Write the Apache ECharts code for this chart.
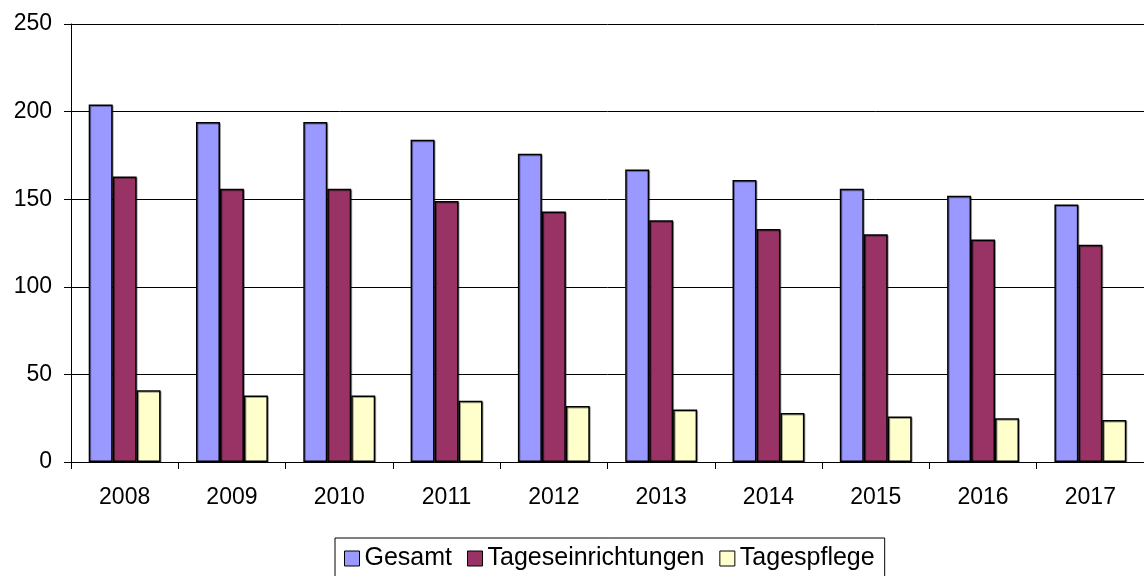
<!DOCTYPE html>
<html>
<head>
<meta charset="utf-8">
<script src="https://cdn.jsdelivr.net/npm/echarts@6/dist/echarts.min.js"></script>
<style>
  html, body { margin: 0; padding: 0; background: #fff; }
  #chart { width: 1144px; height: 576px; }
</style>
</head>
<body>
<div id="chart"></div>
<script>
// Jahre
const years = ['2008', '2009', '2010', '2011', '2012', '2013', '2014', '2015', '2016', '2017'];
// Werte je Reihe
const gesamt = [204, 194, 194, 184, 176, 167, 161, 156, 152, 147];
const tageseinrichtungen = [163, 156, 156, 149, 143, 138, 133, 130, 127, 124];
const tagespflege = [41, 38, 38, 35, 32, 30, 28, 26, 25, 24];
const seriesNames = ['Gesamt', 'Tageseinrichtungen', 'Tagespflege'];
const colors = ['#9999FF', '#993366', '#FFFFCC'];

const chart = echarts.init(document.getElementById('chart'));

function barSeries(name, data, color) {
  return {
    name: name,
    type: 'bar',
    data: data,
    barGap: '0%',
    barCategoryGap: '33%',
    animation: false,
    itemStyle: {
      color: color,
      borderColor: '#000',
      borderWidth: 1.5,
      shadowColor: 'rgba(0,0,0,0.35)',
      shadowOffsetX: 1,
      shadowOffsetY: 1
    }
  };
}

const option = {
  animation: false,
  textStyle: { fontFamily: 'Liberation Sans, Arial, sans-serif' },
  grid: { left: 71, top: 24, right: 0, bottom: 114, containLabel: false },
  legend: {
    data: seriesNames,
    left: 335,
    top: 538,
    padding: [8, 10, 10, 9],
    borderColor: '#000',
    borderWidth: 1,
    itemWidth: 15,
    itemHeight: 15,
    itemGap: 15,
    icon: 'rect',
    itemStyle: { borderColor: '#000', borderWidth: 1 },
    textStyle: { fontSize: 25, color: '#000', fontFamily: 'Liberation Sans, Arial, sans-serif' }
  },
  xAxis: {
    type: 'category',
    data: years,
    axisLine: { lineStyle: { color: '#000', width: 1 } },
    axisTick: { show: true, length: 7, lineStyle: { color: '#000' } },
    axisLabel: { color: '#000', fontSize: 23, margin: 24 }
  },
  yAxis: {
    type: 'value',
    min: 0,
    max: 250,
    interval: 50,
    axisLine: { show: true, lineStyle: { color: '#000', width: 1 } },
    axisTick: { show: true, length: 7, lineStyle: { color: '#000' } },
    axisLabel: { color: '#000', fontSize: 23, margin: 19 },
    splitLine: { show: true, lineStyle: { color: '#000', width: 1 } }
  },
  series: [
    barSeries(seriesNames[0], gesamt, colors[0]),
    barSeries(seriesNames[1], tageseinrichtungen, colors[1]),
    barSeries(seriesNames[2], tagespflege, colors[2])
  ]
};

chart.setOption(option);
</script>
</body>
</html>
